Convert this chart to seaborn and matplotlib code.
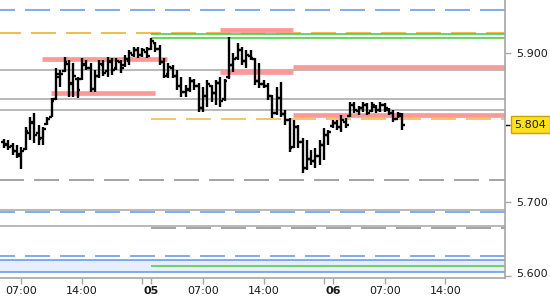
import numpy as np
import matplotlib
matplotlib.use("Agg")
import matplotlib.pyplot as plt
import matplotlib.transforms as mtransforms
import seaborn as sns

# ---------------- data ----------------
opens = [5.780, 5.778, 5.775, 5.768, 5.762, 5.771, 5.792, 5.806, 5.792, 5.786,
         5.805, 5.814, 5.838, 5.868, 5.876, 5.886, 5.858, 5.866, 5.866, 5.884,
         5.880, 5.852, 5.870, 5.884, 5.876, 5.888, 5.880, 5.888, 5.884, 5.890,
         5.898, 5.904, 5.898, 5.902,
         5.906, 5.914, 5.906, 5.888, 5.872, 5.880, 5.870, 5.856, 5.848, 5.850,
         5.862, 5.856, 5.826, 5.842, 5.856, 5.846, 5.860, 5.838, 5.868, 5.884,
         5.894, 5.904, 5.890, 5.896, 5.892, 5.862, 5.858, 5.856, 5.842, 5.820,
         5.840, 5.818, 5.810, 5.774, 5.800, 5.780, 5.745, 5.758, 5.755, 5.762,
         5.776, 5.790,
         5.802, 5.806, 5.800, 5.808, 5.816, 5.830, 5.822, 5.826, 5.830, 5.822,
         5.828, 5.824, 5.830, 5.824, 5.820, 5.812, 5.816]
highs = [5.785, 5.783, 5.779, 5.776, 5.774, 5.801, 5.814, 5.820, 5.803, 5.801,
         5.814, 5.840, 5.880, 5.877, 5.895, 5.891, 5.887, 5.868, 5.894, 5.891,
         5.887, 5.877, 5.891, 5.891, 5.895, 5.894, 5.894, 5.891, 5.898, 5.904,
         5.908, 5.908, 5.907, 5.908,
         5.920, 5.915, 5.911, 5.894, 5.887, 5.884, 5.877, 5.868, 5.857, 5.868,
         5.866, 5.860, 5.854, 5.864, 5.857, 5.864, 5.868, 5.866, 5.922, 5.900,
         5.914, 5.908, 5.904, 5.904, 5.894, 5.887, 5.864, 5.860, 5.844, 5.854,
         5.861, 5.824, 5.813, 5.810, 5.803, 5.786, 5.783, 5.770, 5.772, 5.783,
         5.799, 5.797,
         5.810, 5.810, 5.817, 5.813, 5.834, 5.834, 5.829, 5.834, 5.833, 5.834,
         5.830, 5.834, 5.833, 5.826, 5.824, 5.821, 5.820]
lows = [5.772, 5.770, 5.763, 5.759, 5.744, 5.770, 5.783, 5.779, 5.776, 5.776,
        5.803, 5.814, 5.837, 5.855, 5.875, 5.841, 5.841, 5.840, 5.864, 5.877,
        5.848, 5.848, 5.867, 5.870, 5.868, 5.871, 5.877, 5.873, 5.882, 5.884,
        5.895, 5.894, 5.895, 5.894,
        5.904, 5.902, 5.884, 5.867, 5.867, 5.867, 5.850, 5.841, 5.841, 5.848,
        5.850, 5.821, 5.821, 5.828, 5.834, 5.830, 5.828, 5.836, 5.866, 5.875,
        5.891, 5.884, 5.880, 5.891, 5.857, 5.853, 5.853, 5.837, 5.813, 5.817,
        5.814, 5.803, 5.767, 5.772, 5.772, 5.739, 5.743, 5.749, 5.745, 5.749,
        5.756, 5.776,
        5.799, 5.797, 5.794, 5.799, 5.814, 5.820, 5.817, 5.821, 5.817, 5.821,
        5.820, 5.821, 5.821, 5.817, 5.807, 5.813, 5.797]
closes = [5.776, 5.774, 5.768, 5.764, 5.768, 5.795, 5.808, 5.790, 5.784, 5.798,
          5.812, 5.836, 5.872, 5.872, 5.888, 5.860, 5.870, 5.850, 5.886, 5.880,
          5.852, 5.870, 5.886, 5.874, 5.890, 5.878, 5.890, 5.880, 5.892, 5.900,
          5.904, 5.898, 5.904, 5.896,
          5.916, 5.906, 5.888, 5.870, 5.882, 5.870, 5.856, 5.848, 5.852, 5.862,
          5.856, 5.826, 5.842, 5.858, 5.846, 5.860, 5.836, 5.862, 5.884, 5.892,
          5.904, 5.890, 5.898, 5.894, 5.862, 5.858, 5.856, 5.842, 5.820, 5.840,
          5.818, 5.810, 5.772, 5.800, 5.780, 5.745, 5.758, 5.755, 5.762, 5.776,
          5.790, 5.794,
          5.806, 5.800, 5.810, 5.804, 5.830, 5.824, 5.826, 5.830, 5.820, 5.830,
          5.824, 5.830, 5.826, 5.820, 5.812, 5.818, 5.804]

# session hours (04 01:00 = 0), 30-minute bars starting at 04 05:00
first_bar_hour = 4.0
bar_step = 0.5

tick_hours = [6, 13, 21, 27, 34, 42, 48, 55]
tick_labels = ["07:00", "14:00", "05", "07:00", "14:00", "06", "07:00", "14:00"]
day_labels = ["05", "06"]
minor_tick_hours = [20, 41]

yticks = [5.6, 5.7, 5.9]
ytick_labels = ["5.600", "5.700", "5.900"]
last_price = 5.804

# reference levels
gray_solid = [5.878, 5.838, 5.824, 5.689, 5.667]
gray_dashed_full = [5.729]
gray_dashed_day05 = [5.664]
blue_dashed = [5.958, 5.686, 5.627]
orange_dashed_full = [5.928]
orange_dashed_day05 = [5.811]
green_day05 = [5.926, 5.920, 5.614]
blue_band = [5.605, 5.622]
pink_values = [5.892, 5.846, 5.931, 5.875, 5.881, 5.817]
pink_start = [8.4, 9.4, 29.0, 29.0, 37.4, 37.4]
pink_end = [22.8, 21.45, 37.4, 37.4, 62.0, 62.0]

# ---------------- style ----------------
sns.set_theme(style="white")
plt.rcParams["font.family"] = ["DejaVu Sans"]
plt.rcParams["lines.scale_dashes"] = False
plt.rcParams["lines.solid_capstyle"] = "butt"

XMIN, XMAX = 3.54, 61.9
YMIN, YMAX = 5.5972, 5.9718

fig = plt.figure(figsize=(5.5, 3.0), dpi=100)
ax = fig.add_axes([0.0, 1 - 278 / 300, 505 / 550, 278 / 300])
ax.set_xlim(XMIN, XMAX)
ax.set_ylim(YMIN, YMAX)
ax.set_facecolor("white")

GRAY = "#a6a6a6"
GRAY_D = "#8a8a8a"
BLUE = "#5c95f0"
ORANGE = "#f3b53c"
GREEN = "#3fcc3f"
PINK = "#ff9898"

day05 = 21.0
dash = (18, 7.2)

# blue band
ax.axhspan(blue_band[0], blue_band[1], color="#e8effc", lw=0, zorder=0)
for v in blue_band:
    ax.plot([XMIN, XMAX], [v, v], color=BLUE, lw=1.1, zorder=1)

for v in gray_solid:
    ax.plot([XMIN, XMAX], [v, v], color=GRAY, lw=1.1, zorder=1)
for v in gray_dashed_full:
    ax.plot([XMIN, XMAX], [v, v], color=GRAY_D, lw=1.1, ls=(0.7, dash), zorder=1)
for v in gray_dashed_day05:
    ax.plot([day05, XMAX], [v, v], color=GRAY_D, lw=1.1, ls=(0, dash), zorder=1)
for v in blue_dashed:
    ax.plot([XMIN, XMAX], [v, v], color=BLUE, lw=1.1, ls=(7.2, dash), zorder=1)
for v in orange_dashed_full:
    ax.plot([XMIN, XMAX], [v, v], color=ORANGE, lw=1.3, ls=(2.9, dash), zorder=1)
for v in orange_dashed_day05:
    ax.plot([day05, XMAX], [v, v], color=ORANGE, lw=1.1, ls=(0, dash), zorder=1)
for v in green_day05:
    ax.plot([day05, XMAX], [v, v], color=GREEN, lw=1.1, zorder=1)
for v, s, e in zip(pink_values, pink_start, pink_end):
    ax.plot([s, e], [v, v], color=PINK, lw=3.4, zorder=2)

# OHLC bars
n = len(opens)
x = first_bar_hour + bar_step * np.arange(n)
w = 0.33
ax.vlines(x, lows, highs, color="black", lw=1.7, zorder=5)
ax.hlines(opens, x - w, x, color="black", lw=1.7, zorder=5)
ax.hlines(closes, x, x + w, color="black", lw=1.7, zorder=5)

# axes/spines
for s in ["top", "left"]:
    ax.spines[s].set_visible(False)
for s in ["right", "bottom"]:
    ax.spines[s].set_visible(True)
    ax.spines[s].set_color(GRAY)
    ax.spines[s].set_linewidth(1.2)

ax.yaxis.tick_right()
ax.set_yticks(yticks)
ax.set_yticklabels(ytick_labels)
ax.tick_params(axis="y", which="major", right=True, left=False, length=4,
               width=1, color=GRAY, pad=4, labelsize=8, labelcolor="#1a1a1a")
# bottom label nudged up so it stays inside the figure, like the original
for lab in ax.get_yticklabels():
    if lab.get_text() == "5.600":
        lab.set_transform(lab.get_transform() +
                          mtransforms.ScaledTranslation(0, 3 / 100, fig.dpi_scale_trans))

ax.set_xticks(tick_hours)
ax.set_xticklabels(tick_labels)
ax.set_xticks(minor_tick_hours, minor=True)
ax.tick_params(axis="x", which="both", bottom=True, length=4, width=1,
               color=GRAY, pad=1.5, labelsize=8, labelcolor="#1a1a1a")
for lab in ax.get_xticklabels():
    if lab.get_text() in day_labels:
        lab.set_fontweight("bold")
ax.grid(False)

# last price marker
trans = mtransforms.blended_transform_factory(ax.transAxes, ax.transData)
ax.plot([1.0, 1.0 + 5 / 505], [last_price, last_price], color="black", lw=1,
        transform=trans, clip_on=False)
ax.text(1.0 + 9.5 / 505, last_price, "5.804", transform=trans, fontsize=8,
        va="center", ha="left", color="#1a1a1a",
        bbox=dict(boxstyle="square,pad=0.32", facecolor="#ffe21f",
                  edgecolor="#c9a300", lw=1))

fig.savefig("out.png", dpi=100, facecolor="white")
